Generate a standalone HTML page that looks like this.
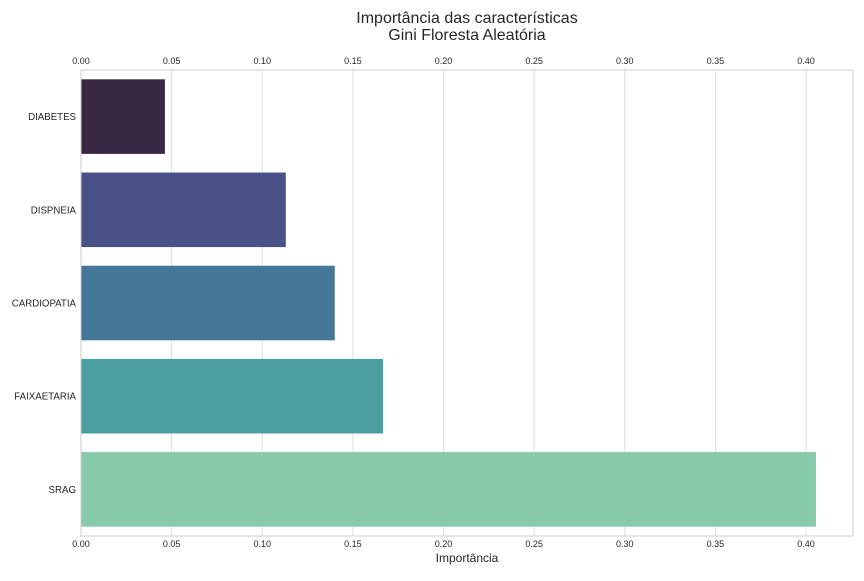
<!DOCTYPE html>
<html><head><meta charset="utf-8">
<style>
body{margin:0;background:#fff;font-family:"Liberation Sans",sans-serif;}
svg text{font-family:"Liberation Sans",sans-serif;fill:#262626;}
</style></head>
<body>
<svg id="chart" width="864" height="576">
<text x="467" y="23" text-anchor="middle" font-size="16">Importância das características</text>
<text x="467" y="40" text-anchor="middle" font-size="16">Gini Floresta Aleatória</text>
<g id="grid"></g>
<g id="bars"></g>
<rect x="81" y="70" width="772" height="466" fill="none" stroke="#ccc" stroke-width="1"/>
<text x="467" y="562" text-anchor="middle" font-size="12">Importância</text>
</svg>
<script>
const categories=["DIABETES","DISPNEIA","CARDIOPATIA","FAIXAETARIA","SRAG"];
const values=[0.0463,0.113,0.140,0.1666,0.4055];
const colors=["#372843","#4a5187","#447797","#4a9f9f","#86c9ab"];
const ticks=[0,0.05,0.10,0.15,0.20,0.25,0.30,0.35,0.40];
const tickLabels=["0.00","0.05","0.10","0.15","0.20","0.25","0.30","0.35","0.40"];
const NS="http://www.w3.org/2000/svg";
const x0=81,y0=70,plotH=466,pxPerUnit=1812.5;
const xs=v=>x0+v*pxPerUnit;
const band=plotH/categories.length;
const grid=document.getElementById('grid'),bars=document.getElementById('bars');
function mk(tag,attrs,parent){const e=document.createElementNS(NS,tag);for(const k in attrs)e.setAttribute(k,attrs[k]);parent.appendChild(e);return e;}
ticks.forEach((t,i)=>{
  const x=xs(t);
  const l=mk('line',{x1:x,x2:x,y1:70,y2:536,stroke:'#ddd','stroke-width':1},grid);
  
  
  [64,547].forEach(y=>{
    const tx=mk('text',{x:x,y:y,'text-anchor':'middle','font-size':9},grid);
    tx.textContent=tickLabels[i];
    
    
  });
});
categories.forEach((c,i)=>{
  const yc=y0+band*(i+0.5),h=band*0.8;
  const r=mk('rect',{x:x0,y:yc-h/2,width:xs(values[i])-x0,height:h,fill:colors[i]},bars);
  
  
  const t=mk('text',{x:76,y:yc+3.5,'text-anchor':'end','font-size':9.7},bars);
  t.textContent=c;
  
  
});
</script>
</body></html>
